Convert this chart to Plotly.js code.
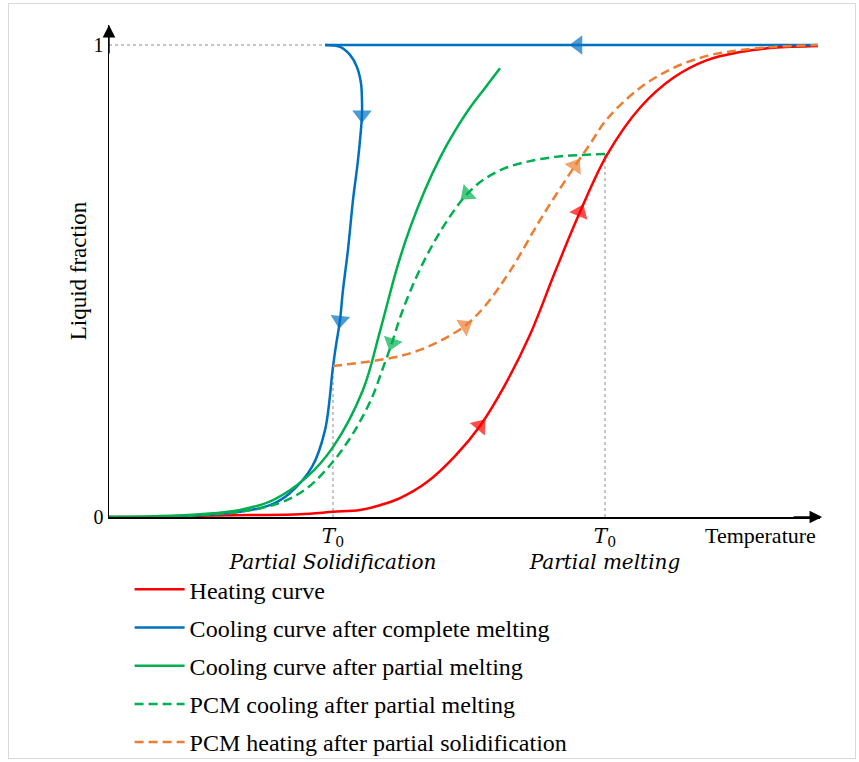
<!DOCTYPE html>
<html><head><meta charset="utf-8">
<script src="https://cdn.plot.ly/plotly-3.0.1.min.js"></script>
<style>
html,body{margin:0;padding:0;background:#fff;}
#chart{width:859px;height:762px;}
#frame{position:absolute;left:8px;top:3px;width:846px;height:754px;border:1px solid #d9d9d9;pointer-events:none;}
</style>
</head><body>
<div id="chart"></div><div id="frame"></div>
<script>
// ---- data (temperature in arbitrary units 0-100, liquid fraction 0-1) ----
const heatingX = [0, 4.36, 9.99, 19.83, 26.86, 31.50, 35.30, 38.12, 40.93, 44.73, 48.66, 52.18, 55.70, 59.21, 62.73, 66.24, 70.04, 74.68, 79.32, 84.11, 88.75, 93.39, 99.72];
const heatingY = [0, 0, 0.002, 0.004, 0.006, 0.011, 0.015, 0.025, 0.040, 0.074, 0.129, 0.193, 0.280, 0.386, 0.519, 0.646, 0.767, 0.867, 0.930, 0.968, 0.985, 0.994, 0.998];
const heatingArrows = [11, 15];

const coolTopX = [99.72, 65.96, 30.38];
const coolTopY = [1, 1, 1];
const coolTopArrows = [1];

const coolDropX = [30.38, 32.49, 33.90, 34.88, 35.44, 35.58, 35.58, 35.02, 34.32, 33.61, 32.91, 32.49, 31.93, 31.50, 30.38, 28.55, 25.46, 22.64, 18.42, 12.80, 7.17, 0];
const coolDropY = [1.0, 0.996, 0.979, 0.953, 0.919, 0.883, 0.852, 0.756, 0.672, 0.566, 0.481, 0.417, 0.364, 0.318, 0.184, 0.106, 0.051, 0.025, 0.011, 0.004, 0, 0];
const coolDropArrows = [6, 11];

const coolPartialX = [0, 7.17, 12.80, 18.42, 23.07, 27.85, 31.50, 35.72, 38.12, 40.51, 42.33, 44.44, 46.55, 48.66, 50.77, 52.88, 54.99];
const coolPartialY = [0, 0.002, 0.006, 0.015, 0.036, 0.085, 0.148, 0.269, 0.394, 0.528, 0.612, 0.693, 0.761, 0.818, 0.867, 0.909, 0.951];

const pcmCoolX = [69.76, 66.24, 62.73, 59.21, 55.70, 52.60, 50.35, 48.38, 46.13, 44.16, 42.33, 40.93, 39.80, 38.54, 37.13, 35.58, 33.90, 31.50, 27.85, 24.05, 18.42, 12.80, 7.17, 0];
const pcmCoolY = [0.769, 0.767, 0.763, 0.754, 0.739, 0.714, 0.684, 0.646, 0.593, 0.538, 0.477, 0.422, 0.369, 0.316, 0.258, 0.210, 0.167, 0.117, 0.061, 0.030, 0.011, 0.004, 0, 0];
const pcmCoolArrows = [6, 12];

const pcmHeatX = [31.50, 34.88, 38.12, 40.93, 43.74, 46.55, 50.07, 52.88, 56.40, 60.62, 63.01, 65.54, 67.65, 70.04, 74.68, 79.32, 84.11, 88.75, 93.39, 99.72];
const pcmHeatY = [0.320, 0.326, 0.333, 0.341, 0.354, 0.373, 0.405, 0.447, 0.521, 0.629, 0.686, 0.744, 0.790, 0.843, 0.909, 0.951, 0.977, 0.989, 0.996, 1.0];
const pcmHeatArrows = [6, 11];

const seriesNames = ['Heating curve', 'Cooling curve after complete melting', 'Cooling curve after partial melting', 'PCM cooling after partial melting', 'PCM heating after partial solidification'];
const yTickVals = [0, 1];
const yTickText = ['0', '1'];
const xTickText = ['<i>T</i><sub>0</sub><br><i>Partial Solidification</i>', '<i>T</i><sub>0</sub><br><i>Partial melting</i>'];

// ---- styles ----
const RED = '#FF0000', BLUE = '#0070C0', GREEN = '#00B050', ORANGE = '#ED7D31';
const SERIF = 'Liberation Serif, Times New Roman, serif';

function curve(x, y, name, color, dash, group, showlegend) {
  return {x: x, y: y, name: name, type: 'scatter', mode: 'lines', legendgroup: group, showlegend: showlegend,
    line: {color: color, width: 2.5, dash: dash, shape: 'spline', smoothing: 1}, hoverinfo: 'skip'};
}
function arrows(x, y, idx, color) {
  const sizes = x.map((_, i) => idx.includes(i) ? 17 : 0);
  return {x: x, y: y, type: 'scatter', mode: 'markers', showlegend: false, legendgroup: 'aux', cliponaxis: false,
    marker: {symbol: 'triangle-up', angleref: 'previous', size: sizes, color: color, line: {width: 0}}, hoverinfo: 'skip'};
}

// T0 positions come from where the partial curves start
const t0Solid = pcmHeatX[0], t0Melt = pcmCoolX[0];
const guide = {color: '#8c8c8c', width: 1, dash: '3px,3px'};

const traces = [
  {x: [0, coolTopX[coolTopX.length - 1]], y: [coolTopY[0], coolTopY[0]], mode: 'lines', type: 'scatter', line: guide, showlegend: false, legendgroup: 'aux', hoverinfo: 'skip'},
  {x: [t0Solid, t0Solid], y: [0, pcmHeatY[0]], mode: 'lines', type: 'scatter', line: guide, showlegend: false, legendgroup: 'aux', hoverinfo: 'skip'},
  {x: [t0Melt, t0Melt], y: [0, pcmCoolY[0]], mode: 'lines', type: 'scatter', line: guide, showlegend: false, legendgroup: 'aux', hoverinfo: 'skip'},
  curve(heatingX, heatingY, seriesNames[0], RED, 'solid', 'g1', true),
  curve(coolTopX, coolTopY, seriesNames[1], BLUE, 'solid', 'g2', true),
  curve(coolDropX, coolDropY, seriesNames[1], BLUE, 'solid', 'g2', false),
  curve(coolPartialX, coolPartialY, seriesNames[2], GREEN, 'solid', 'g3', true),
  curve(pcmCoolX, pcmCoolY, seriesNames[3], GREEN, '9px,5px', 'g4', true),
  curve(pcmHeatX, pcmHeatY, seriesNames[4], ORANGE, '9px,5px', 'g5', true),
  arrows(heatingX, heatingY, heatingArrows, RED),
  arrows(coolTopX, coolTopY, coolTopArrows, BLUE),
  arrows(coolDropX, coolDropY, coolDropArrows, BLUE),
  arrows(pcmCoolX, pcmCoolY, pcmCoolArrows, GREEN),
  arrows(pcmHeatX, pcmHeatY, pcmHeatArrows, ORANGE)
];

const layout = {
  width: 859, height: 762,
  margin: {l: 109, r: 39, t: 25, b: 245, autoexpand: false},
  paper_bgcolor: '#fff', plot_bgcolor: '#fff',
  showlegend: true,
  xaxis: {range: [0, 100], showgrid: false, zeroline: false, showline: true, linecolor: '#000', linewidth: 1.5,
    tickvals: [t0Solid, t0Melt], ticktext: xTickText, ticks: '', automargin: false,
    tickfont: {family: 'DejaVu Serif', size: 20, color: '#000'}, fixedrange: true},
  yaxis: {range: [0, 1.0424], showgrid: false, zeroline: false, showline: true, linecolor: '#000', linewidth: 1.5,
    tickvals: yTickVals, ticktext: yTickText, ticks: '', automargin: false,
    tickfont: {family: SERIF, size: 20, color: '#000'},
    title: {text: 'Liquid fraction', font: {family: SERIF, size: 23, color: '#000'}, standoff: 0}, fixedrange: true},
  legend: {x: 0.029, y: -0.102, xanchor: 'left', yanchor: 'top', traceorder: 'grouped', tracegroupgap: 4,
    itemwidth: 50, font: {family: SERIF, size: 24, color: '#000'}, bgcolor: 'rgba(0,0,0,0)'},
  annotations: [
    {xref: 'paper', yref: 'paper', x: 1.003, y: 0, ax: -30, ay: 0, text: '', showarrow: true, arrowhead: 2, arrowsize: 1.8, arrowwidth: 1.4, arrowcolor: '#000'},
    {xref: 'paper', yref: 'paper', x: 0, y: 1, ax: 0, ay: 30, text: '', showarrow: true, arrowhead: 2, arrowsize: 1.8, arrowwidth: 1.4, arrowcolor: '#000'},
    {xref: 'paper', yref: 'paper', x: 0.916, y: -0.037, text: 'Temperature', showarrow: false, xanchor: 'center', yanchor: 'middle',
      font: {family: SERIF, size: 22, color: '#000'}}
  ]
};

Plotly.newPlot('chart', traces, layout, {displayModeBar: false, staticPlot: true});
</script>
</body></html>
